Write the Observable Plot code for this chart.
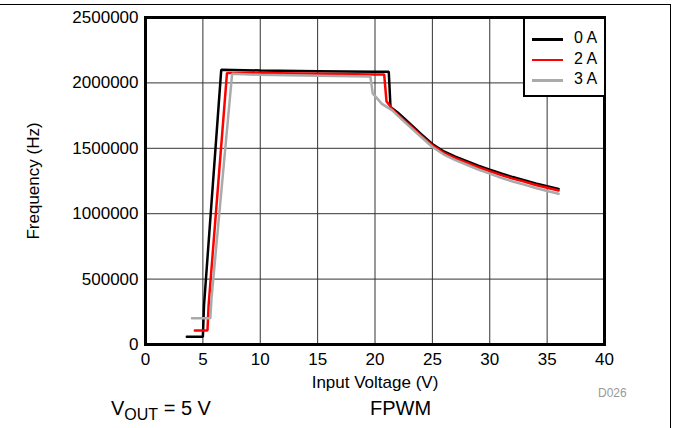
<!DOCTYPE html>
<html>
<head>
<meta charset="utf-8">
<script src="https://cdn.jsdelivr.net/npm/d3@7"></script>
<script src="https://cdn.jsdelivr.net/npm/@observablehq/plot@0.6"></script>
<style>
  html, body { margin: 0; padding: 0; background: #fff; overflow: hidden; }
  #wrap { position: relative; width: 673px; height: 428px; font-family: "Liberation Sans", Arial, sans-serif; }
  #border { position: absolute; left: -10px; top: 4px; width: 681px; height: 500px; border: 1px solid #000; box-sizing: border-box; pointer-events: none; }
  #legend { position: absolute; left: 523px; top: 17px; width: 83px; height: 80px; border: 2px solid #000; box-sizing: border-box; background: #fff; }
  .leg { position: absolute; left: 7px; height: 20px; font-size: 16px; }
  .leg .sw { position: absolute; left: 0; top: 9px; width: 31px; height: 2.5px; }
  .leg .lb { position: absolute; left: 42px; top: 0px; white-space: nowrap; }
  .txt { position: absolute; white-space: nowrap; }
</style>
</head>
<body>
<div id="wrap"></div>
<script>
// ---- data ----
const xTicks = [0, 5, 10, 15, 20, 25, 30, 35, 40];
const yTicks = [0, 500000, 1000000, 1500000, 2000000, 2500000];
const seriesNames = ["0 A", "2 A", "3 A"];
const seriesColors = ["#000000", "#ff0000", "#aaaaaa"];

const vin0 = [3.6, 5.0, 5.1, 6.6, 10, 15, 20, 21.2, 21.35, 22, 23, 24, 25, 26, 27, 28, 29, 30, 31, 32, 33, 34, 35, 36];
const f0 = [60000, 60000, 300000, 2100000, 2095000, 2090000, 2085000, 2085000, 1815000, 1772000, 1692000, 1610000, 1533000, 1476000, 1436000, 1402000, 1368000, 1337000, 1307000, 1280000, 1256000, 1232000, 1210000, 1190000];

const vin2 = [4.3, 5.4, 5.5, 7.1, 10, 15, 20, 20.8, 21.0, 21.5, 22, 23, 24, 25, 26, 27, 28, 29, 30, 31, 32, 33, 34, 35, 36];
const f2 = [107000, 107000, 300000, 2075000, 2075000, 2070000, 2065000, 2065000, 1860000, 1800000, 1758000, 1678000, 1598000, 1522000, 1465000, 1424000, 1390000, 1355000, 1325000, 1295000, 1268000, 1245000, 1220000, 1198000, 1177000];

const vin3 = [4.05, 5.65, 5.75, 7.55, 10, 15, 19.6, 19.8, 20.6, 21.5, 22, 23, 24, 25, 26, 27, 28, 29, 30, 31, 32, 33, 34, 35, 36];
const f3 = [200000, 200000, 350000, 2070000, 2062000, 2055000, 2048000, 1920000, 1840000, 1790000, 1748000, 1668000, 1588000, 1510000, 1452000, 1410000, 1374000, 1338000, 1306000, 1274000, 1246000, 1222000, 1196000, 1173000, 1152000];

const allSeries = [[vin0, f0], [vin2, f2], [vin3, f3]];
const rows = [];
allSeries.forEach(([vs, fs], i) => vs.forEach((v, j) => rows.push({series: seriesNames[i], v, f: fs[j]})));

const chart = Plot.plot({
  width: 673,
  height: 428,
  marginLeft: 145,
  marginRight: 69,
  marginTop: 17,
  marginBottom: 84,
  style: { fontFamily: "'Liberation Sans', Arial, sans-serif", fontSize: "16px", color: "#000", background: "transparent", overflow: "visible" },
  x: { domain: [0, 40] },
  y: { domain: [0, 2500000] },
  color: { domain: seriesNames, range: seriesColors },
  marks: [
    Plot.gridX(xTicks, { stroke: "#333", strokeOpacity: 1, strokeWidth: 1 }),
    Plot.gridY(yTicks, { stroke: "#333", strokeOpacity: 1, strokeWidth: 1 }),
    Plot.line(rows, { x: "v", y: "f", z: "series", stroke: "series", strokeWidth: 2.5, strokeLinejoin: "miter" }),
    Plot.frame({ stroke: "#000", strokeWidth: 3 }),
    Plot.axisX(xTicks, { tickSize: 0, tickPadding: 8, fontSize: 17, label: "Input Voltage (V)", labelAnchor: "center", labelArrow: "none", labelOffset: 43 }),
    Plot.axisY(yTicks, { tickSize: 0, tickPadding: 7, fontSize: 17, tickFormat: d => String(d), label: "Frequency (Hz)", labelAnchor: "center", labelArrow: "none", labelOffset: 119 })
  ]
});

const wrap = document.getElementById("wrap");
wrap.appendChild(chart);

// legend
const legend = document.createElement("div");
legend.id = "legend";
seriesNames.forEach((name, i) => {
  const row = document.createElement("div");
  row.className = "leg";
  row.style.top = (10 + i * 20.5) + "px";
  const sw = document.createElement("div");
  sw.className = "sw";
  sw.style.background = seriesColors[i];
  const lb = document.createElement("div");
  lb.className = "lb";
  lb.textContent = name;
  row.appendChild(sw); row.appendChild(lb);
  legend.appendChild(row);
});
wrap.appendChild(legend);

// annotations
function addText(html, left, top, size, color) {
  const d = document.createElement("div");
  d.className = "txt";
  d.innerHTML = html;
  d.style.left = left + "px";
  d.style.top = top + "px";
  d.style.fontSize = size + "px";
  d.style.color = color;
  wrap.appendChild(d);
}
addText("D026", 598, 386, 12, "#999");
addText("V<sub style='font-size:16px;vertical-align:-5px'>OUT</sub> = 5 V", 111, 397, 20, "#000");
addText("FPWM", 370, 397, 20, "#000");

const border = document.createElement("div");
border.id = "border";
wrap.appendChild(border);
</script>
</body>
</html>
